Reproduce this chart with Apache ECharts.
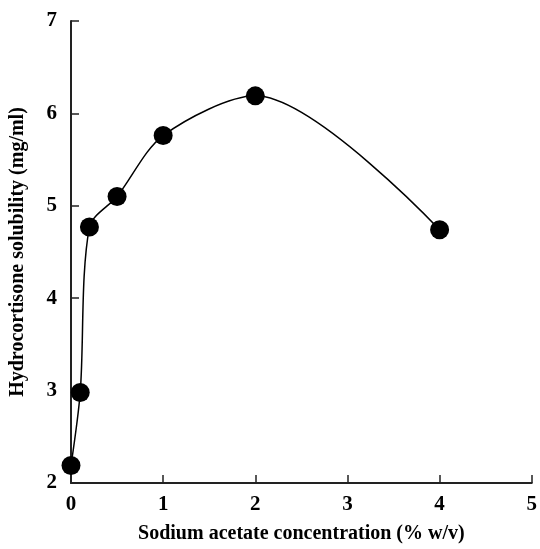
<!DOCTYPE html>
<html>
<head>
<meta charset="utf-8">
<script src="https://cdn.jsdelivr.net/npm/echarts@6/dist/echarts.min.js"></script>
<style>
html, body { margin: 0; padding: 0; background: #fff; }
#main { width: 540px; height: 549px; }
</style>
</head>
<body>
<div id="main"></div>
<script>
// 数据
var concentration = [0, 0.1, 0.2, 0.5, 1, 2, 4];
var solubility = [2.19, 2.98, 4.77, 5.1, 5.76, 6.19, 4.74];

var points = concentration.map(function (x, i) { return [x, solubility[i]]; });

var font = 'Liberation Serif';
var myChart = echarts.init(document.getElementById('main'));
option = {
	animation: false,
	grid: { left: 70, right: 7, top: 21, bottom: 64 },
	xAxis: {
		type: 'value',
		min: 0, max: 5, interval: 1,
		name: 'Sodium acetate concentration (% w/v)',
		nameLocation: 'middle',
		nameGap: 41,
		nameTextStyle: { fontFamily: font, fontWeight: 'bold', fontSize: 20, color: '#000' },
		axisLine: { lineStyle: { color: '#222', width: 2 } },
		axisTick: { inside: true, length: 8, lineStyle: { color: '#222', width: 1.5 } },
		axisLabel: { fontFamily: font, fontWeight: 'bold', fontSize: 21, color: '#000', margin: 11 },
		splitLine: { show: false }
	},
	yAxis: {
		type: 'value',
		min: 2, max: 7, interval: 1,
		name: 'Hydrocortisone solubility (mg/ml)',
		nameLocation: 'middle',
		nameGap: 43,
		nameTextStyle: { fontFamily: font, fontWeight: 'bold', fontSize: 20, color: '#000' },
		axisLine: { show: true, lineStyle: { color: '#222', width: 2 } },
		axisTick: { show: true, inside: true, length: 8, lineStyle: { color: '#222', width: 1.5 } },
		axisLabel: { fontFamily: font, fontWeight: 'bold', fontSize: 21, color: '#000', margin: 14 },
		splitLine: { show: false }
	},
	series: [
		{
			type: 'line',
			data: points,
			smooth: 0.3,
			symbol: 'circle',
			symbolSize: 19,
			lineStyle: { color: '#000', width: 1.5 },
			itemStyle: { color: '#000' }
		}
	]
};
myChart.setOption(option);
</script>
</body>
</html>
